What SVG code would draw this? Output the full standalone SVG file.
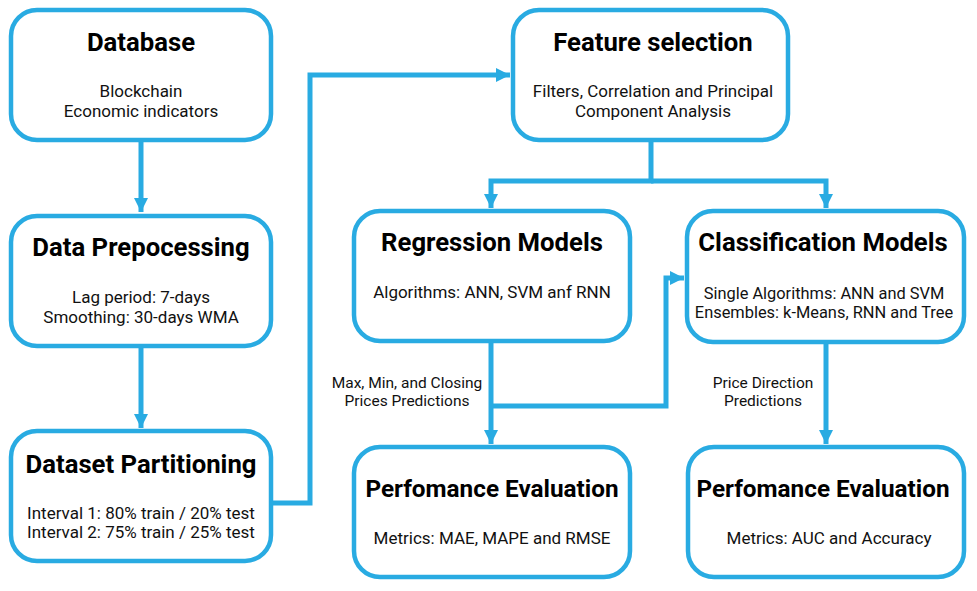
<svg xmlns="http://www.w3.org/2000/svg" width="977" height="591" viewBox="0 0 977 591">
<defs>
<style>
.box{fill:#fff;stroke:#29abe2;stroke-width:4.5}
.ln{fill:none;stroke:#29abe2;stroke-width:5}
.t{font-family:Roboto,"Liberation Sans",sans-serif;font-weight:700;font-size:25.7px;fill:#000;text-anchor:middle}
.tp{font-size:24.3px}
.b{font-family:Roboto,"Liberation Sans",sans-serif;font-size:17px;fill:#111;text-anchor:middle}
.bs{font-size:16.4px}
.l{font-family:Roboto,"Liberation Sans",sans-serif;font-size:15.5px;fill:#111;text-anchor:middle}
</style>
<marker id="ah" markerUnits="userSpaceOnUse" markerWidth="16" markerHeight="16" viewBox="0 0 16 16" refX="14" refY="8" orient="auto">
<path d="M0,1 L14,8 L0,15 Z" fill="#29abe2"/>
</marker>
</defs>
<g id="connectors">
<path class="ln" d="M141,141 V212" marker-end="url(#ah)"/>
<path class="ln" d="M141,347 V428" marker-end="url(#ah)"/>
<path class="ln" d="M273,503 H310 V75 H510" marker-end="url(#ah)"/>
<path class="ln" d="M651,141 V181 H491 V208" marker-end="url(#ah)"/>
<path class="ln" d="M651,181 H826 V208" marker-end="url(#ah)"/>
<path class="ln" d="M491,342 V444" marker-end="url(#ah)"/>
<path class="ln" d="M491,406 H666 V278 H684" marker-end="url(#ah)"/>
<path class="ln" d="M826,343 V444" marker-end="url(#ah)"/>
<text class="l" x="407" y="388">Max, Min, and Closing</text>
<text class="l" x="407" y="406">Prices Predictions</text>
<text class="l" x="763" y="388">Price Direction</text>
<text class="l" x="763" y="406">Predictions</text>
</g>
<g id="database">
<rect class="box" x="11" y="10" width="260" height="130" rx="26"/>
<text class="t" x="141" y="51">Database</text>
<text class="b" x="141" y="97">Blockchain</text>
<text class="b" x="141" y="117">Economic indicators</text>
</g>
<g id="preprocessing">
<rect class="box" x="11" y="216" width="260" height="130" rx="26"/>
<text class="t" x="141" y="256">Data Prepocessing</text>
<text class="b" x="141" y="303">Lag period: 7-days</text>
<text class="b" x="141" y="323">Smoothing: 30-days WMA</text>
</g>
<g id="partitioning">
<rect class="box" x="11" y="431" width="260" height="130" rx="26"/>
<text class="t" x="141" y="473">Dataset Partitioning</text>
<text class="b" x="141" y="519">Interval 1: 80% train / 20% test</text>
<text class="b" x="141" y="538">Interval 2: 75% train / 25% test</text>
</g>
<g id="feature">
<rect class="box" x="513" y="10" width="275" height="130" rx="26"/>
<text class="t" x="653" y="51">Feature selection</text>
<text class="b" x="653" y="97">Filters, Correlation and Principal</text>
<text class="b" x="653" y="117">Component Analysis</text>
</g>
<g id="regression">
<rect class="box" x="354" y="211" width="276" height="130" rx="26"/>
<text class="t" x="492" y="251">Regression Models</text>
<text class="b" x="492" y="298">Algorithms: ANN, SVM anf RNN</text>
</g>
<g id="classification">
<rect class="box" x="687" y="211" width="277" height="131" rx="26"/>
<text class="t" x="823" y="251">Classification Models</text>
<text class="b bs" x="824" y="299">Single Algorithms: ANN and SVM</text>
<text class="b bs" x="824" y="318">Ensembles: k-Means, RNN and Tree</text>
</g>
<g id="perf-left">
<rect class="box" x="354" y="447" width="276" height="130" rx="26"/>
<text class="t tp" x="492" y="497">Perfomance Evaluation</text>
<text class="b" x="492" y="544">Metrics: MAE, MAPE and RMSE</text>
</g>
<g id="perf-right">
<rect class="box" x="688" y="447" width="276" height="130" rx="26"/>
<text class="t tp" x="823" y="497">Perfomance Evaluation</text>
<text class="b" x="829" y="544">Metrics: AUC and Accuracy</text>
</g>
</svg>
